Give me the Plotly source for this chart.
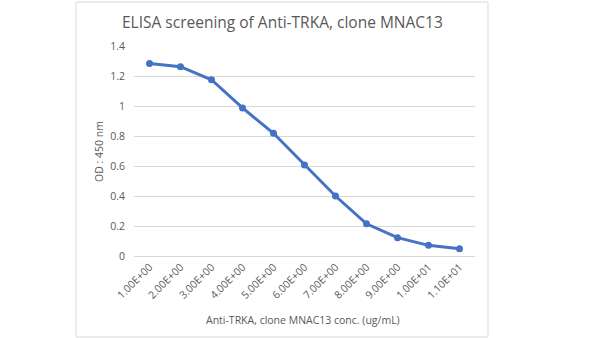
import plotly.graph_objects as go

categories = ["1.00E+00", "2.00E+00", "3.00E+00", "4.00E+00", "5.00E+00", "6.00E+00",
              "7.00E+00", "8.00E+00", "9.00E+00", "1.00E+01", "1.10E+01"]
od_values = [1.283, 1.262, 1.175, 0.987, 0.818, 0.607, 0.400, 0.215, 0.122, 0.071, 0.049]

title_text = "ELISA screening of Anti-TRKA, clone MNAC13"
x_title = "Anti-TRKA, clone MNAC13 conc. (ug/mL)"
y_title = "OD : 450 nm"

L, R, T, B = 134, 475, 46, 256
W, H = 600, 338

def px_x(p):
    return (p - L) / (R - L)

def px_y(p):
    return (B - p) / (B - T)

fig = go.Figure()
fig.add_trace(go.Scatter(
    x=categories, y=od_values, mode="lines+markers",
    line=dict(color="#4472C4", width=3),
    marker=dict(color="#4472C4", size=7),
    showlegend=False,
))

font_fam = "Open Sans, Lato, sans-serif"
fig.update_layout(
    width=W, height=H,
    margin=dict(l=L, r=W - R, t=T, b=H - B),
    paper_bgcolor="white", plot_bgcolor="white",
    font=dict(family=font_fam, color="#595959"),
    xaxis=dict(type="category", range=[-0.5, 10.5], showgrid=False, zeroline=False,
               showline=False, ticks="", tickangle=-45, ticklabelstandoff=2,
               tickfont=dict(size=10.5, color="#595959")),
    yaxis=dict(range=[0, 1.4], dtick=0.2, showgrid=True, gridcolor="#d9d9d9",
               gridwidth=1, zeroline=True, zerolinecolor="#d9d9d9", zerolinewidth=1,
               showline=False, ticks="", ticklabelstandoff=8,
               tickfont=dict(size=10.5, color="#595959")),
    shapes=[dict(type="rect", xref="paper", yref="paper",
                 x0=px_x(76), x1=px_x(488), y0=px_y(337), y1=px_y(2),
                 line=dict(color="#d9d9d9", width=1), fillcolor="rgba(0,0,0,0)", layer="below")],
    annotations=[
        dict(text=title_text, xref="paper", yref="paper", x=px_x(282), y=px_y(22),
             showarrow=False, xanchor="center", yanchor="middle",
             font=dict(size=15.5, color="#595959", family=font_fam)),
        dict(text=x_title, xref="paper", yref="paper", x=px_x(303), y=px_y(320),
             showarrow=False, xanchor="center", yanchor="middle",
             font=dict(size=10.5, color="#595959", family=font_fam)),
        dict(text=y_title, xref="paper", yref="paper", x=px_x(99), y=px_y(152),
             showarrow=False, xanchor="center", yanchor="middle", textangle=-90,
             font=dict(size=10.5, color="#595959", family=font_fam)),
    ],
)

fig.write_html("out.html")
